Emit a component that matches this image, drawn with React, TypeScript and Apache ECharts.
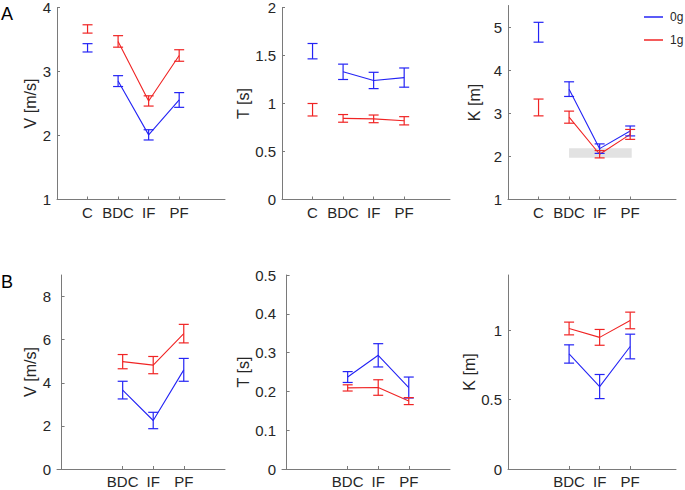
import React, { useEffect, useRef } from "react";
import * as echarts from "echarts";

const BLUE = "#2424f5";
const RED = "#f02424";
const AXIS = "#7a7a7a";
const TXT = "#262626";
const FONT = "'Liberation Sans', Arial, Helvetica, sans-serif";

// categories and their x positions
const catsA = ["C", "BDC", "IF", "PF"];
const posA = [1, 2, 3, 4];
const catsB = ["BDC", "IF", "PF"];
const posB = [2, 3, 4];

// Row A : velocity
const vA0 = [3.37, 2.85, 2.01, 2.555];
const vA0e = [0.065, 0.085, 0.08, 0.115];
const vA1 = [3.665, 3.47, 2.54, 3.25];
const vA1e = [0.065, 0.09, 0.08, 0.09];
// Row A : time
const tA0 = [1.545, 1.33, 1.24, 1.27];
const tA0e = [0.08, 0.08, 0.085, 0.1];
const tA1 = [0.935, 0.845, 0.84, 0.82];
const tA1e = [0.065, 0.04, 0.04, 0.043];
// Row A : K
const kA0 = [4.88, 3.56, 2.18, 2.59];
const kA0e = [0.23, 0.17, 0.11, 0.115];
const kA1 = [3.135, 2.91, 2.05, 2.51];
const kA1e = [0.195, 0.14, 0.085, 0.115];
// shaded band in A K panel
const bandX = [2, 4.05];
const bandY = [1.97, 2.19];

// Row B : velocity
const vB0 = [3.66, 2.25, 4.6];
const vB0e = [0.41, 0.38, 0.53];
const vB1 = [4.98, 4.82, 6.28];
const vB1e = [0.33, 0.4, 0.43];
// Row B : time
const tB0 = [0.237, 0.293, 0.21];
const tB0e = [0.014, 0.03, 0.027];
const tB1 = [0.209, 0.21, 0.175];
const tB1e = [0.008, 0.02, 0.009];
// Row B : K
const kB0 = [0.83, 0.595, 0.884];
const kB0e = [0.066, 0.087, 0.089];
const kB1 = [1.014, 0.95, 1.072];
const kB1e = [0.046, 0.057, 0.06];

// y ticks
const yTicksAV = [1, 2, 3, 4];
const yTicksAT = [0, 0.5, 1, 1.5, 2];
const yTicksAK = [1, 2, 3, 4, 5];
const yTicksBV = [0, 2, 4, 6, 8];
const yTicksBT = [0, 0.1, 0.2, 0.3, 0.4, 0.5];
const yTicksBK = [0, 0.5, 1];

const panels = [
  { left: 57, top: 5.5, name: "V [m/s]", gap: 17, ymin: 1, ymax: 4, yt: yTicksAV, xmin: 0, xmax: 5.5, pos: posA, cats: catsA, m0: vA0, e0: vA0e, m1: vA1, e1: vA1e, from: 1 },
  { left: 282, top: 5.5, name: "T [s]", gap: 28, ymin: 0, ymax: 2, yt: yTicksAT, xmin: 0, xmax: 5.5, pos: posA, cats: catsA, m0: tA0, e0: tA0e, m1: tA1, e1: tA1e, from: 1 },
  { left: 508, top: 5.5, name: "K [m]", gap: 26, ymin: 1, ymax: 5.5, yt: yTicksAK, xmin: 0, xmax: 5.5, pos: posA, cats: catsA, m0: kA0, e0: kA0e, m1: kA1, e1: kA1e, from: 1, band: true },
  { left: 57, top: 275, name: "V [m/s]", gap: 16, ymin: 0, ymax: 9, yt: yTicksBV, xmin: -0.15, xmax: 5.35, pos: posB, cats: catsB, m0: vB0, e0: vB0e, m1: vB1, e1: vB1e, from: 0 },
  { left: 282, top: 275, name: "T [s]", gap: 28, ymin: 0, ymax: 0.5, yt: yTicksBT, xmin: -0.15, xmax: 5.35, pos: posB, cats: catsB, m0: tB0, e0: tB0e, m1: tB1, e1: tB1e, from: 0 },
  { left: 508, top: 275, name: "K [m]", gap: 29, ymin: 0, ymax: 1.4, yt: yTicksBK, xmin: 0, xmax: 5.5, pos: posB, cats: catsB, m0: kB0, e0: kB0e, m1: kB1, e1: kB1e, from: 0 },
];

function errorBarRender(color: string) {
  return (params: any, api: any) => {
    const x = api.value(0);
    const m = api.value(1);
    const e = api.value(2);
    const hi = api.coord([x, m + e]);
    const lo = api.coord([x, m - e]);
    const w = 5;
    const style = { stroke: color, lineWidth: 1.2 };
    return {
      type: "group",
      children: [
        { type: "line", shape: { x1: hi[0], y1: hi[1], x2: lo[0], y2: lo[1] }, style },
        { type: "line", shape: { x1: hi[0] - w, y1: hi[1], x2: hi[0] + w, y2: hi[1] }, style },
        { type: "line", shape: { x1: lo[0] - w, y1: lo[1], x2: lo[0] + w, y2: lo[1] }, style },
      ],
    };
  };
}

function buildOption() {
  const grid: any[] = [];
  const xAxis: any[] = [];
  const yAxis: any[] = [];
  const series: any[] = [];
  panels.forEach((p, i) => {
    grid.push({ left: p.left, top: p.top, width: 168, height: 194, containLabel: false });
    const labelMap: Record<number, string> = {};
    p.pos.forEach((x, k) => (labelMap[x] = p.cats[k]));
    xAxis.push({
      type: "value",
      gridIndex: i,
      min: p.xmin,
      max: p.xmax,
      axisLine: { show: true, lineStyle: { color: AXIS, width: 1 } },
      axisTick: { show: true, inside: true, length: 3, customValues: p.pos, lineStyle: { color: AXIS } },
      axisLabel: {
        customValues: p.pos,
        formatter: (v: number) => labelMap[v] ?? "",
        color: TXT,
        fontSize: 15,
        fontFamily: FONT,
        margin: 5,
      },
      splitLine: { show: false },
    });
    yAxis.push({
      type: "value",
      gridIndex: i,
      min: p.ymin,
      max: p.ymax,
      name: p.name,
      nameLocation: "middle",
      nameGap: p.gap,
      nameRotate: 90,
      nameTextStyle: { color: TXT, fontSize: 16, fontFamily: FONT },
      axisLine: { show: true, lineStyle: { color: AXIS, width: 1 } },
      axisTick: { show: true, inside: true, length: 3, customValues: p.yt, lineStyle: { color: AXIS } },
      axisLabel: { customValues: p.yt, color: TXT, fontSize: 15, fontFamily: FONT, margin: 6 },
      splitLine: { show: false },
    });
    const sets = [
      { name: "0g", color: BLUE, m: p.m0, e: p.e0 },
      { name: "1g", color: RED, m: p.m1, e: p.e1 },
    ];
    sets.forEach((s) => {
      series.push({
        type: "line",
        name: s.name,
        xAxisIndex: i,
        yAxisIndex: i,
        z: 3,
        showSymbol: false,
        symbol: "none",
        data: p.pos.slice(p.from).map((x, k) => [x, s.m[k + p.from]]),
        lineStyle: { color: s.color, width: 1.1 },
        itemStyle: { color: s.color },
      });
      series.push({
        type: "custom",
        name: s.name + "-err",
        xAxisIndex: i,
        yAxisIndex: i,
        z: 4,
        renderItem: errorBarRender(s.color),
        data: p.pos.map((x, k) => [x, s.m[k], s.e[k]]),
        encode: { x: 0, y: 1 },
      });
    });
    if ((p as any).band) {
      series.push({
        type: "line",
        name: "band",
        xAxisIndex: i,
        yAxisIndex: i,
        z: 1,
        data: [],
        silent: true,
        markArea: {
          silent: true,
          itemStyle: { color: "#e2e2e2" },
          data: [[{ coord: [bandX[0], bandY[0]] }, { coord: [bandX[1], bandY[1]] }]],
        },
      });
    }
  });
  return {
    animation: false,
    backgroundColor: "#ffffff",
    textStyle: { fontFamily: FONT },
    grid,
    xAxis,
    yAxis,
    series,
    legend: {
      data: ["0g", "1g"],
      orient: "vertical",
      left: 639,
      top: 6,
      icon: "rect",
      itemWidth: 19,
      itemHeight: 1.5,
      itemGap: 11,
      selectedMode: false,
      textStyle: { color: TXT, fontSize: 12, fontFamily: FONT, padding: [0, 0, 0, 2] },
    },
    graphic: [
      { type: "text", left: 1, top: 5, style: { text: "A", fontSize: 18, fontFamily: FONT, fill: "#000" } },
      { type: "text", left: 1, top: 273, style: { text: "B", fontSize: 18, fontFamily: FONT, fill: "#000" } },
    ],
  };
}

export default function App() {
  const ref = useRef<HTMLDivElement>(null);
  useEffect(() => {
    if (!ref.current) return;
    const chart = echarts.init(ref.current, null, { renderer: "svg" });
    chart.setOption(buildOption() as any);
    return () => chart.dispose();
  }, []);
  return (
    <div
      ref={ref}
      style={{ position: "fixed", left: 0, top: 0, width: 685, height: 490, background: "#fff" }}
    />
  );
}
